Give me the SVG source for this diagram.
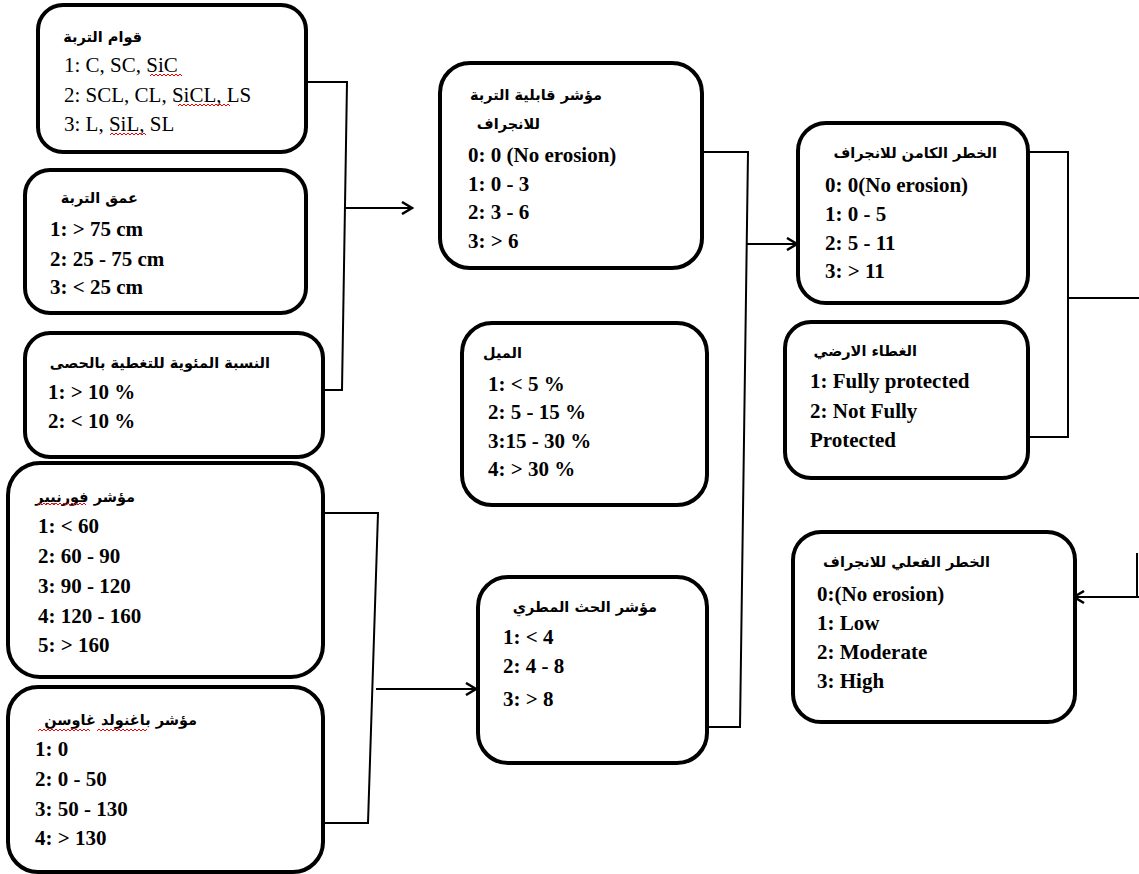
<svg xmlns="http://www.w3.org/2000/svg" width="1139" height="874" viewBox="0 0 1139 874">
<style>
  .box { fill: #fff; stroke: #000; stroke-width: 4; }
  .t { font-family: "Liberation Serif", "Times New Roman", serif; font-size: 21px; fill: #000; }
  .b { font-weight: bold; }
  .ar { font-family: "DejaVu Sans", "Noto Sans", sans-serif; font-size: 14.5px; font-weight: bold; fill: #000; text-anchor: end; }
  .con { fill: none; stroke: #000; stroke-width: 2; }
  .sq { fill: none; stroke: #e00; stroke-width: 1; }
</style>
<defs>
  <marker id="arr" markerUnits="userSpaceOnUse" markerWidth="14" markerHeight="14" refX="12" refY="7" orient="auto">
    <path d="M2,1 L12,7 L2,13" fill="none" stroke="#000" stroke-width="2.5"/>
  </marker>
</defs>
<rect width="1139" height="874" fill="#fff"/>

<g id="connectors">
  <polyline class="con" points="306,82 347,82 342,390 323,390"/>
  <line class="con" x1="346" y1="208" x2="412" y2="208" marker-end="url(#arr)"/>
  <polyline class="con" points="323,513 378,513 368,823 323,823"/>
  <line class="con" x1="376" y1="689" x2="476" y2="689" marker-end="url(#arr)"/>
  <polyline class="con" points="702,152 748,152 740,727 707,727"/>
  <line class="con" x1="747" y1="244" x2="797" y2="244" marker-end="url(#arr)"/>
  <polyline class="con" points="1028,152 1068,152 1068,437 1028,437"/>
  <line class="con" x1="1068" y1="298" x2="1139" y2="298"/>
  <line class="con" x1="1137" y1="553" x2="1137" y2="597" stroke="#888"/>
  <line class="con" x1="1139" y1="597" x2="1074" y2="597" marker-end="url(#arr)"/>
</g>

<g id="n-texture">
  <rect class="box" x="38" y="5" width="268" height="147" rx="25"/>
  <text class="ar" x="142" y="42">قوام التربة</text>
  <text class="t" x="64" y="72">1: C, SC, SiC</text>
  <text class="t" x="64" y="102">2: SCL, CL, SiCL, LS</text>
  <text class="t" x="64" y="131">3: L, SiL, SL</text>
  <path class="sq" d="M150,76 l2,-2 l2,2 l2,-2 l2,2 l2,-2 l2,2 l2,-2 l2,2 l2,-2 l2,2 l2,-2 l2,2 l2,-2 l2,2 l2,-2 l2,2"/>
  <path class="sq" d="M178,106 l2,-2 l2,2 l2,-2 l2,2 l2,-2 l2,2 l2,-2 l2,2 l2,-2 l2,2 l2,-2 l2,2 l2,-2 l2,2 l2,-2 l2,2 l2,-2 l2,2 l2,-2 l2,2 l2,-2 l2,2 l2,-2 l2,2 l2,-2 l2,2"/>
  <path class="sq" d="M110,135 l2,-2 l2,2 l2,-2 l2,2 l2,-2 l2,2 l2,-2 l2,2 l2,-2 l2,2 l2,-2 l2,2 l2,-2 l2,2 l2,-2 l2,2 l2,-2 l2,2"/>
</g>

<g id="n-depth">
  <rect class="box" x="25" y="170" width="281" height="143" rx="25"/>
  <text class="ar" x="138" y="203">عمق التربة</text>
  <text class="t b" x="50" y="236">1: &gt; 75 cm</text>
  <text class="t b" x="50" y="266">2: 25 - 75 cm</text>
  <text class="t b" x="50" y="294">3: &lt; 25 cm</text>
</g>

<g id="n-gravel">
  <rect class="box" x="25" y="333" width="298" height="124" rx="25"/>
  <text class="ar" x="270" y="368">النسبة المئوية للتغطية بالحصى</text>
  <text class="t b" x="48" y="399">1: &gt; 10 %</text>
  <text class="t b" x="48" y="428">2: &lt; 10 %</text>
</g>

<g id="n-fournier">
  <rect class="box" x="8" y="463" width="315" height="214" rx="32"/>
  <text class="ar" x="135" y="502">مؤشر فورنيير</text>
  <path class="sq" d="M38,505 l2,-2 l2,2 l2,-2 l2,2 l2,-2 l2,2 l2,-2 l2,2 l2,-2 l2,2 l2,-2 l2,2 l2,-2 l2,2 l2,-2 l2,2 l2,-2 l2,2 l2,-2 l2,2 l2,-2 l2,2 l2,-2 l2,2"/>
  <text class="t b" x="38" y="533">1: &lt; 60</text>
  <text class="t b" x="38" y="563">2: 60 - 90</text>
  <text class="t b" x="38" y="593">3: 90 - 120</text>
  <text class="t b" x="38" y="623">4: 120 - 160</text>
  <text class="t b" x="38" y="652">5: &gt; 160</text>
</g>

<g id="n-bagnouls">
  <rect class="box" x="8" y="687" width="315" height="185" rx="30"/>
  <text class="ar" x="197" y="725">مؤشر باغنولد غاوسن</text>
  <path class="sq" d="M38,731 l2,-2 l2,2 l2,-2 l2,2 l2,-2 l2,2 l2,-2 l2,2 l2,-2 l2,2 l2,-2 l2,2 l2,-2 l2,2 l2,-2 l2,2 l2,-2 l2,2 l2,-2 l2,2 l2,-2 l2,2 l2,-2 l2,2 l2,-2 l2,2"/>
  <path class="sq" d="M97,731 l2,-2 l2,2 l2,-2 l2,2 l2,-2 l2,2 l2,-2 l2,2 l2,-2 l2,2 l2,-2 l2,2 l2,-2 l2,2 l2,-2 l2,2 l2,-2 l2,2 l2,-2 l2,2 l2,-2 l2,2 l2,-2 l2,2 l2,-2"/>
  <text class="t b" x="35" y="756">1: 0</text>
  <text class="t b" x="35" y="786">2: 0 - 50</text>
  <text class="t b" x="35" y="816">3: 50 - 130</text>
  <text class="t b" x="35" y="845">4: &gt; 130</text>
</g>

<g id="n-erodibility">
  <rect class="box" x="440" y="63" width="262" height="205" rx="30"/>
  <text class="ar" x="602" y="100">مؤشر قابلية التربة</text>
  <text class="ar" x="540" y="129">للانجراف</text>
  <text class="t b" x="468" y="162">0: 0 (No erosion)</text>
  <text class="t b" x="468" y="191">1: 0 - 3</text>
  <text class="t b" x="468" y="219">2: 3 - 6</text>
  <text class="t b" x="468" y="248">3: &gt; 6</text>
</g>

<g id="n-slope">
  <rect class="box" x="462" y="323" width="245" height="182" rx="30"/>
  <text class="ar" x="522" y="358">الميل</text>
  <text class="t b" x="488" y="391">1: &lt; 5 %</text>
  <text class="t b" x="488" y="419">2: 5 - 15 %</text>
  <text class="t b" x="488" y="448">3:15 - 30 %</text>
  <text class="t b" x="488" y="476">4: &gt; 30 %</text>
</g>

<g id="n-rainfall">
  <rect class="box" x="478" y="577" width="229" height="186" rx="30"/>
  <text class="ar" x="657" y="612">مؤشر الحث المطري</text>
  <text class="t b" x="503" y="644">1: &lt; 4</text>
  <text class="t b" x="503" y="673">2: 4 - 8</text>
  <text class="t b" x="503" y="706">3: &gt; 8</text>
</g>

<g id="n-potential">
  <rect class="box" x="798" y="123" width="230" height="180" rx="28"/>
  <text class="ar" x="997" y="158">الخطر الكامن للانجراف</text>
  <text class="t b" x="825" y="192">0: 0(No erosion)</text>
  <text class="t b" x="825" y="221">1: 0 - 5</text>
  <text class="t b" x="825" y="250">2: 5 - 11</text>
  <text class="t b" x="825" y="278">3: &gt; 11</text>
</g>

<g id="n-cover">
  <rect class="box" x="785" y="322" width="243" height="156" rx="26"/>
  <text class="ar" x="917" y="356">الغطاء الارضي</text>
  <text class="t b" x="810" y="388">1: Fully protected</text>
  <text class="t b" x="810" y="418">2: Not Fully</text>
  <text class="t b" x="810" y="447">Protected</text>
</g>

<g id="n-actual">
  <rect class="box" x="793" y="532" width="282" height="190" rx="28"/>
  <text class="ar" x="990" y="567">الخطر الفعلي للانجراف</text>
  <text class="t b" x="817" y="601">0:(No erosion)</text>
  <text class="t b" x="817" y="630">1: Low</text>
  <text class="t b" x="817" y="659">2: Moderate</text>
  <text class="t b" x="817" y="688">3: High</text>
</g>
</svg>
